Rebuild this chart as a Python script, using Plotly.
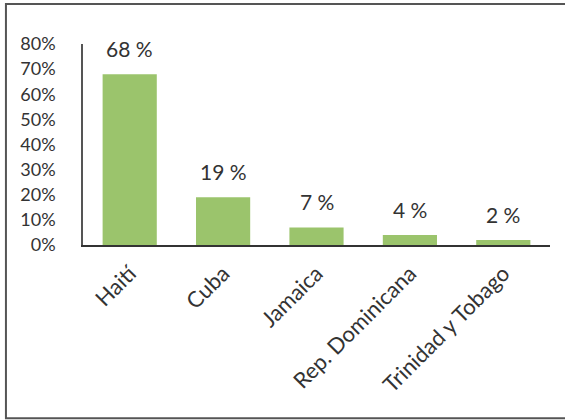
import plotly.graph_objects as go

countries = ["Haití", "Cuba", "Jamaica", "Rep. Dominicana", "Trinidad y Tobago"]
shares = [0.68, 0.19, 0.07, 0.04, 0.02]
share_labels = ["68 %", "19 %", "7 %", "4 %", "2 %"]
y_ticks = [0, 0.1, 0.2, 0.3, 0.4, 0.5, 0.6, 0.7, 0.8]
y_tick_text = ["0%", "10%", "20%", "30%", "40%", "50%", "60%", "70%", "80%"]

FONT = "Lato, 'Open Sans', sans-serif"
TEXT = "#333333"

fig = go.Figure(
    go.Bar(
        x=countries,
        y=shares,
        marker=dict(color="#9BC46C", line=dict(width=0)),
        hoverinfo="skip",
    )
)

for c, v, t in zip(countries, shares, share_labels):
    fig.add_annotation(
        x=c, y=v, text=t, showarrow=False, yanchor="bottom", yshift=11,
        font=dict(family=FONT, size=21, color=TEXT),
    )

# outer frame around the chart
fig.add_shape(
    type="rect", xref="paper", yref="paper",
    x0=-0.165, x1=1.05, y0=-0.862, y1=1.199,
    line=dict(color="#555555", width=2), fillcolor="rgba(0,0,0,0)",
    layer="below",
)

fig.update_layout(
    width=565, height=420,
    margin=dict(l=83, r=15, t=44, b=175),
    paper_bgcolor="white", plot_bgcolor="white",
    bargap=0.42,
    showlegend=False,
    font=dict(family=FONT, size=18, color=TEXT),
    xaxis=dict(
        showline=True, linecolor="#333333", linewidth=2,
        showgrid=False, ticks="", tickangle=-45,
        ticklabelstandoff=5,
        tickfont=dict(family=FONT, size=22, color=TEXT),
        fixedrange=True,
    ),
    yaxis=dict(
        range=[0, 0.8], tickvals=y_ticks, ticktext=y_tick_text,
        showline=True, linecolor="#555555", linewidth=1.5,
        showgrid=False, zeroline=False, ticks="",
        ticklabelstandoff=22,
        tickfont=dict(family=FONT, size=18, color=TEXT),
        fixedrange=True,
    ),
)

fig.write_html("out.html")
